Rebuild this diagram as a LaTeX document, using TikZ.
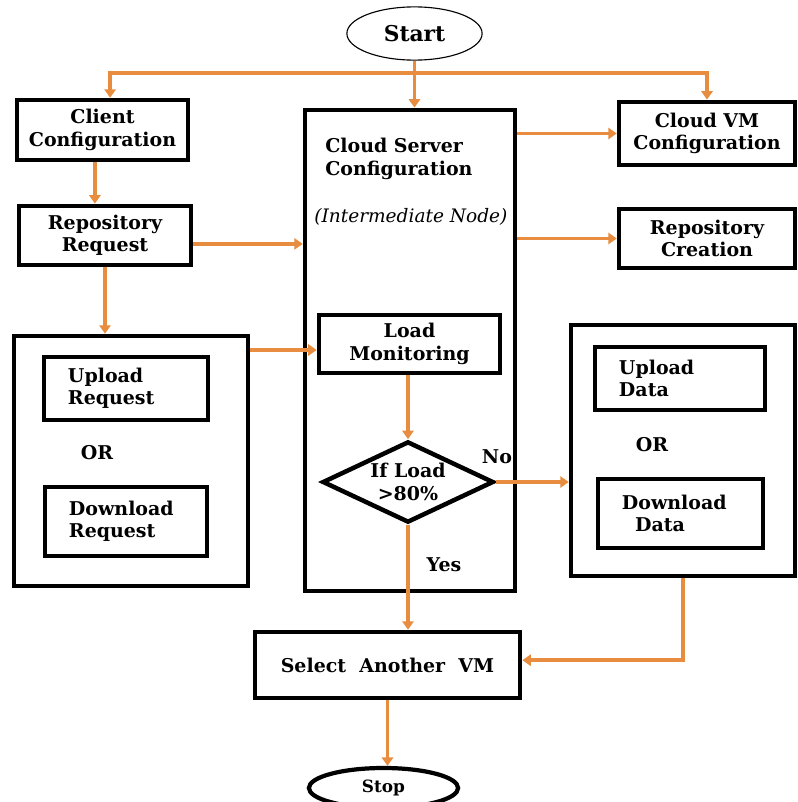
\documentclass[tikz,border=0pt]{standalone}
\usepackage{fontspec}
\setmainfont{DejaVu Serif}
\usetikzlibrary{positioning}
\usetikzlibrary{shapes.geometric}
\usetikzlibrary{arrows.meta}
\definecolor{flowline}{RGB}{232,140,64}

\begin{document}
\begin{tikzpicture}[x=0.025cm,y=-0.025cm,
      elementblock/.style={draw,rectangle,line width=3.2pt,align=center,inner sep=0pt,
        font=\bfseries\fontsize{13.5}{16}\selectfont},
      innerblock/.style={elementblock,align=left,inner xsep=0.6cm,text width=#1},
      groupblock/.style={draw,rectangle,line width=3.2pt,inner sep=0pt},
      plaintext/.style={inner sep=0pt,font=\bfseries\fontsize{13.5}{16}\selectfont},
      endblock/.style={draw,ellipse,inner sep=0pt},
      flowarrow/.style={draw=flowline,line width=2.6pt,-{Triangle[width=8pt,length=6pt]}}]
      \useasboundingbox (0,0) rectangle (797,802);
      \clip (0,0) rectangle (797,802);

      % Blocks
      \node[endblock,line width=0.8pt,minimum width=3.38cm,minimum height=1.33cm,
        font=\bfseries\fontsize{15.5}{18}\selectfont]                    (start)      at (414.5,33.5) {Start};
      \node[elementblock,minimum width=4.28cm,minimum height=1.5cm]       (client)     at (102.5,130)  {Client\\Configuration};
      \node[elementblock,minimum width=4.3cm,minimum height=1.48cm]       (repo)       at (105,235.5)  {Repository\\Request};
      \node[groupblock,minimum width=5.25cm,minimum height=12.03cm]       (server)     at (410,350.5)  {};
      \node[plaintext,anchor=west,align=left]                             (servertitle) at (325,159)   {Cloud Server\\Configuration};
      \node[plaintext,anchor=west,font=\itshape\fontsize{13.2}{15}\selectfont] (servernote) at (314,217) {(Intermediate Node)};
      \node[elementblock,minimum width=4.4cm,minimum height=1.58cm]       (vmconf)     at (707,133.5)  {Cloud VM\\Configuration};
      \node[elementblock,minimum width=4.4cm,minimum height=1.48cm]       (repocreate) at (707,238.5)  {Repository\\Creation};

      \node[groupblock,minimum width=5.85cm,minimum height=6.25cm]        (requests)   at (131,461)    {};
      \node[innerblock=2.9cm,minimum height=1.58cm]                       (uprequest)  at (126,388.5)  {Upload\\Request};
      \node[plaintext]                                                    (reqor)      at (97,453)     {OR};
      \node[innerblock=2.85cm,minimum height=1.73cm]                      (downrequest) at (126,521.5) {Download\\Request};

      \node[elementblock,minimum width=4.53cm,minimum height=1.45cm]      (loadmon)    at (409.5,344)  {Load\\Monitoring};
      \node[elementblock,diamond,aspect=2.1,minimum width=4.28cm,minimum height=2.03cm] (ifload) at (408,482) {If Load\\>80\%};
      \node[plaintext]                                                    (no)         at (497,457)    {No};
      \node[plaintext]                                                    (yes)        at (444,565)    {Yes};

      \node[groupblock,minimum width=5.6cm,minimum height=6.28cm]         (transfers)  at (683,450.5)  {};
      \node[innerblock=3.05cm,minimum height=1.58cm]                      (updata)     at (680,378.5)  {Upload\\Data};
      \node[plaintext]                                                    (dataor)     at (652,445)    {OR};
      \node[innerblock=2.93cm,minimum height=1.73cm]                      (downdata)   at (680.5,513.5) {Download\\\hspace*{0.33cm}Data};

      \node[elementblock,minimum width=6.63cm,minimum height=1.65cm]      (select)     at (387.5,665)  {Select\ \ Another\ \ VM};
      \node[endblock,line width=3pt,minimum width=3.73cm,minimum height=1cm,
        font=\bfseries\fontsize{12}{14}\selectfont]                       (stop)       at (383.5,788)  {Stop};

      % Arrows
      \coordinate (bus) at (414.5,73);
      \draw[flowarrow] (start) -- (server.north -| start);
      \draw[flowarrow] (bus) -| ([xshift=0.19cm]client.north);
      \draw[flowarrow] (bus) -| (vmconf.north);
      \draw[flowarrow] ([xshift=-0.19cm]client.south) -- ([xshift=-0.19cm]client.south |- repo.north);
      \draw[flowarrow] ([yshift=-0.21cm]repo.east) -- ([yshift=-0.21cm]repo.east -| server.west);
      \draw[flowarrow] (repo.south) -- (repo.south |- requests.north);
      \draw[flowarrow] ([yshift=-0.15cm]requests.east |- loadmon.west) -- ([yshift=-0.15cm]loadmon.west);
      \draw[flowarrow] (server.east |- vmconf.west) -- (vmconf.west);
      \draw[flowarrow] (server.east |- repocreate.west) -- (repocreate.west);
      \draw[flowarrow] (ifload.north |- loadmon.south) -- (ifload.north);
      \draw[flowarrow] (ifload.east) -- (ifload.east -| transfers.west);
      \draw[flowarrow] (ifload.south) -- (ifload.south |- select.north);
      \draw[flowarrow] (transfers.south) |- ([yshift=0.12cm]select.east);
      \draw[flowarrow] (select.south) -- (select.south |- stop.north);

    \end{tikzpicture}
\end{document}
